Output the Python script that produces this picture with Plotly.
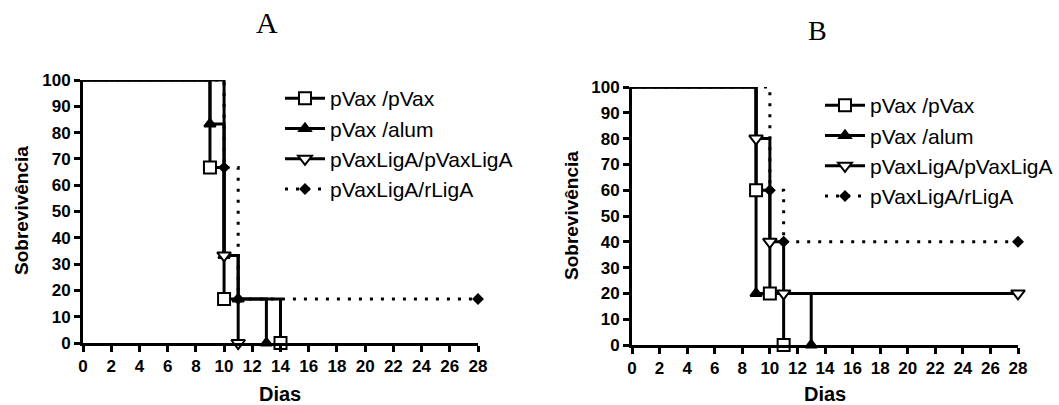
import plotly.graph_objects as go

W, H = 1059, 405

# ---------------- data ----------------
series_names = ["pVax /pVax", "pVax /alum", "pVaxLigA/pVaxLigA", "pVaxLigA/rLigA"]

# Panel A
a_pvax_t = [0, 9, 10, 14]
a_pvax_s = [100, 66.7, 16.7, 0]
a_alum_t = [0, 9, 10, 11, 13]
a_alum_s = [100, 83.3, 33.3, 16.7, 0]
a_ligdna_t = [0, 10, 11]
a_ligdna_s = [100, 33.3, 0]
a_rliga_t = [0, 10, 11, 28]
a_rliga_s = [100, 66.7, 16.7, 16.7]

# Panel B
b_pvax_t = [0, 9, 10, 11]
b_pvax_s = [100, 60, 20, 0]
b_alum_t = [0, 9, 13]
b_alum_s = [100, 20, 0]
b_ligdna_t = [0, 9, 10, 11, 28]
b_ligdna_s = [100, 80, 40, 20, 20]
b_rliga_t = [0, 10, 11, 28]
b_rliga_s = [100, 60, 40, 40]

x_ticks = list(range(0, 29, 2))
y_ticks = list(range(0, 101, 10))

# ---------------- styles ----------------
FONT = "Arial, Liberation Sans, sans-serif"
SERIF = "Times New Roman, Liberation Serif, serif"

styles = [
    dict(symbol="square", size=12, fill="white", dash="solid"),
    dict(symbol="triangle-up", size=10, fill="black", dash="solid"),
    dict(symbol="triangle-down", size=12, fill="white", dash="solid"),
    dict(symbol="diamond", size=7, fill="black", dash="3px,8px"),
]


def px_x(p):
    return p / W


def px_y(p):
    return 1 - p / H


fig = go.Figure()

panels = [
    ("x", "y", "legend",
     [(a_pvax_t, a_pvax_s), (a_alum_t, a_alum_s), (a_ligdna_t, a_ligdna_s), (a_rliga_t, a_rliga_s)]),
    ("x2", "y2", "legend2",
     [(b_pvax_t, b_pvax_s), (b_alum_t, b_alum_s), (b_ligdna_t, b_ligdna_s), (b_rliga_t, b_rliga_s)]),
]

for xa, ya, leg, data in panels:
    for name, st, (t, s) in zip(series_names, styles, data):
        # step line
        fig.add_trace(go.Scatter(
            x=t, y=s, mode="lines", line=dict(shape="hv", color="black", width=3, dash=st["dash"]),
            xaxis=xa, yaxis=ya, showlegend=False, cliponaxis=False, hoverinfo="skip"))
    for name, st, (t, s) in zip(series_names, styles, data):
        # event markers
        fig.add_trace(go.Scatter(
            x=t[1:], y=s[1:], mode="markers",
            marker=dict(symbol=st["symbol"], size=st["size"], color=st["fill"],
                        line=dict(color="black", width=2)),
            xaxis=xa, yaxis=ya, showlegend=False, cliponaxis=False))
    for name, st, (t, s) in zip(series_names, styles, data):
        # legend entry
        fig.add_trace(go.Scatter(
            x=[None], y=[None], mode="lines+markers", name=name,
            line=dict(color="black", width=3, dash=st["dash"]),
            marker=dict(symbol=st["symbol"], size=st["size"], color=st["fill"],
                        line=dict(color="black", width=2)),
            xaxis=xa, yaxis=ya, legend=leg, showlegend=True))

axis_common = dict(showline=True, linewidth=3, linecolor="black", ticks="outside", ticklen=6, tickwidth=3,
                   tickcolor="black", showgrid=False, zeroline=False, automargin=False,
                   tickfont=dict(family=FONT, size=17, color="black", weight="bold"))

fig.update_layout(
    width=W, height=H, autosize=False,
    margin=dict(l=0, r=0, t=0, b=0, pad=0, autoexpand=False),
    paper_bgcolor="white", plot_bgcolor="white",
    xaxis=dict(domain=[px_x(83), px_x(478)], range=[0, 28], tickvals=x_ticks, anchor="y", **axis_common),
    yaxis=dict(domain=[px_y(343), px_y(80)], range=[0, 100], tickvals=y_ticks, anchor="x", **axis_common),
    xaxis2=dict(domain=[px_x(632), px_x(1018)], range=[0, 28], tickvals=x_ticks, anchor="y2", **axis_common),
    yaxis2=dict(domain=[px_y(345), px_y(87)], range=[0, 100], tickvals=y_ticks, anchor="x2", **axis_common),
    legend=dict(x=px_x(280), y=px_y(78), xanchor="left", yanchor="top", bgcolor="rgba(0,0,0,0)",
                font=dict(family=FONT, size=21, color="black"), itemwidth=40, tracegroupgap=0),
    legend2=dict(x=px_x(820), y=px_y(85), xanchor="left", yanchor="top", bgcolor="rgba(0,0,0,0)",
                 font=dict(family=FONT, size=21, color="black"), itemwidth=40, tracegroupgap=0),
    showlegend=True,
)

ann = [
    dict(text="A", x=px_x(267), y=px_y(22), font=dict(family=SERIF, size=30, color="black")),
    dict(text="B", x=px_x(817), y=px_y(31), font=dict(family=SERIF, size=28, color="black")),
    dict(text="Sobrevivência", x=px_x(21), y=px_y(211), textangle=-90,
         font=dict(family=FONT, size=19, color="black", weight="bold")),
    dict(text="Sobrevivência", x=px_x(571), y=px_y(216), textangle=-90,
         font=dict(family=FONT, size=19, color="black", weight="bold")),
    dict(text="Dias", x=px_x(280), y=px_y(394), font=dict(family=FONT, size=20, color="black", weight="bold")),
    dict(text="Dias", x=px_x(825), y=px_y(394), font=dict(family=FONT, size=20, color="black", weight="bold")),
]
for a in ann:
    a.update(xref="paper", yref="paper", showarrow=False, xanchor="center", yanchor="middle")
    fig.add_annotation(**a)

fig.write_html("out.html", config={"displayModeBar": False},
               post_script="document.body.style.margin='0';")
